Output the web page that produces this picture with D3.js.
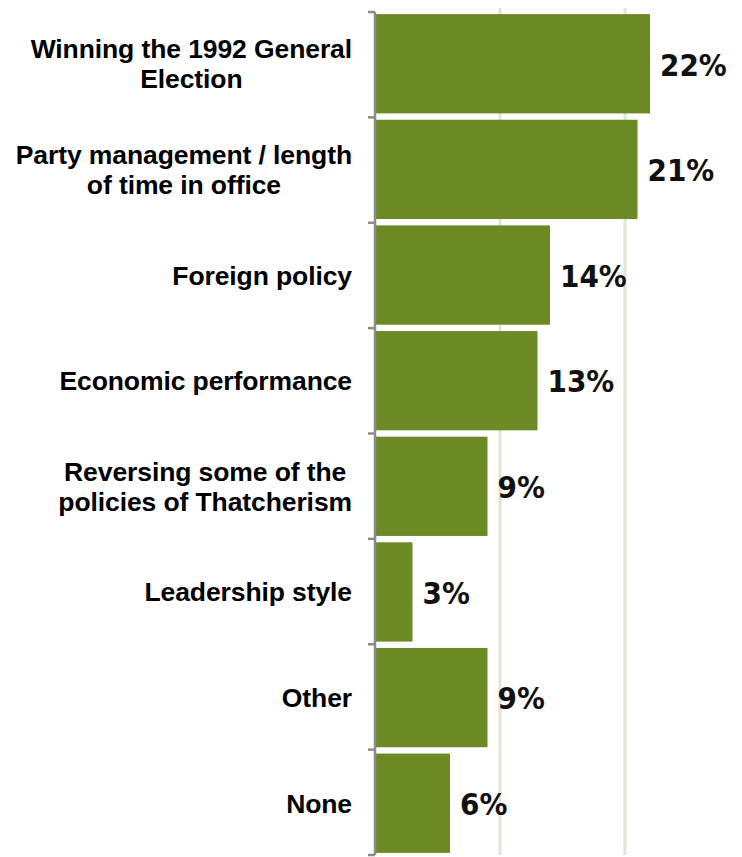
<!DOCTYPE html>
<html>
<head>
<meta charset="utf-8">
<script src="https://cdn.jsdelivr.net/npm/d3@7"></script>
<style>
  html, body { margin: 0; padding: 0; background: #fff; }
  svg { display: block; }
</style>
</head>
<body>
<svg id="chart" width="742" height="857"></svg>
<script>
const categories = [
  ["Winning the 1992 General", "Election"],
  ["Party management / length", "of time in office"],
  ["Foreign policy"],
  ["Economic performance"],
  ["Reversing some of the", "policies of Thatcherism"],
  ["Leadership style"],
  ["Other"],
  ["None"]
];
const values = [22, 21, 14, 13, 9, 3, 9, 6];
const gridTicks = [10, 20];

const svg = d3.select("#chart");
const keys = categories.map((c, i) => i);

const x = d3.scaleLinear().domain([0, 30]).range([375, 750]);
const y = d3.scaleBand().domain(keys).range([12, 855]).paddingInner(0.06).paddingOuter(0.02).align(0.5);

// gridlines
svg.append("g").selectAll("line").data(gridTicks).join("line")
  .attr("x1", d => x(d)).attr("x2", d => x(d))
  .attr("y1", 8).attr("y2", 855)
  .attr("stroke", "#e2e5cf").attr("stroke-width", 3);

// bars
svg.append("g").selectAll("rect").data(values).join("rect")
  .attr("x", x(0))
  .attr("y", (d, i) => y(i))
  .attr("width", d => x(d) - x(0))
  .attr("height", y.bandwidth())
  .attr("fill", "#6b8a23");

// axis line and ticks at band boundaries
const step = (855 - 12) / categories.length;
const boundaries = d3.range(categories.length + 1).map(i => 12 + i * step);
svg.append("line")
  .attr("x1", x(0)).attr("x2", x(0))
  .attr("y1", 12).attr("y2", 855)
  .attr("stroke", "#8c8c8c").attr("stroke-width", 2.5);
svg.append("g").selectAll("line").data(boundaries).join("line")
  .attr("x1", x(0) - 7).attr("x2", x(0))
  .attr("y1", d => d).attr("y2", d => d)
  .attr("stroke", "#8c8c8c").attr("stroke-width", 2.5);

// category labels
const labelRight = 352;
const lineH = 30;
const lg = svg.append("g");
categories.forEach((lines, i) => {
  const cy = y(i) + y.bandwidth() / 2;
  const t = lg.append("text")
    .attr("font-family", "'Liberation Sans', Arial, sans-serif")
    .attr("font-weight", "bold")
    .attr("font-size", 26.5)
    .attr("letter-spacing", "-0.1px")
    .attr("fill", "#000")
    .attr("text-anchor", "middle");
  const spans = lines.map((s, j) => t.append("tspan")
    .attr("y", cy + (j - (lines.length - 1) / 2) * lineH)
    .attr("dy", "0.36em")
    .text(s));
  const maxW = d3.max(spans, sp => sp.node().getComputedTextLength());
  spans.forEach(sp => sp.attr("x", labelRight - maxW / 2));
});

// value labels
svg.append("g").selectAll("text").data(values).join("text")
  .attr("x", d => x(d) + 10)
  .attr("y", (d, i) => y(i) + y.bandwidth() / 2)
  .attr("dy", "0.38em")
  .attr("font-family", "'DejaVu Sans Condensed', 'DejaVu Sans', sans-serif")
  .attr("font-weight", "bold")
  .attr("font-size", 31)
  .attr("fill", "#111")
  .text(d => d + "%");
</script>
</body>
</html>
